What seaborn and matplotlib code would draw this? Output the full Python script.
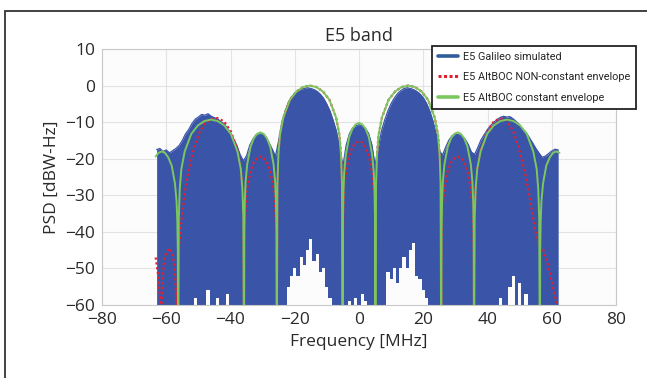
import numpy as np
import pandas as pd
import matplotlib
matplotlib.use("Agg")
import matplotlib.pyplot as plt
from matplotlib.patches import Rectangle
from matplotlib.lines import Line2D
import seaborn as sns

# ---------------- data ----------------
blue_freq = list(range(-63, 63))
blue_top = [-17.5, -17.2, -18.0, -17.6, -18.4, -17.8, -17.2, -16.4, -15.0, -13.2,
            -12.0, -10.4, -9.2, -8.6, -7.9, -8.1, -7.7, -8.4, -8.8, -9.1,
            -9.9, -10.4, -11.6, -12.9, -14.6, -16.4, -18.9, -20.6, -19.2, -16.3,
            -14.6, -13.4, -13.1, -13.4, -14.1, -15.6, -17.4, -19.3, -15.0, -10.2,
            -7.0, -4.6, -3.1, -2.1, -1.4, -1.0, -0.8, -0.6, -0.8, -1.1,
            -1.6, -2.4, -3.5, -5.1, -7.0, -9.6, -12.6, -17.2, -22.0, -16.3,
            -13.2, -11.6, -11.0, -10.7, -11.1, -11.7, -13.1, -16.2, -21.8, -17.0,
            -12.4, -9.4, -6.9, -4.9, -3.4, -2.2, -1.4, -0.8, -0.6, -0.8,
            -1.1, -1.6, -2.3, -3.3, -4.8, -6.9, -9.6, -13.2, -17.8, -19.0,
            -16.8, -14.9, -13.7, -13.3, -13.4, -13.8, -14.6, -16.1, -18.2, -18.8,
            -16.9, -14.8, -13.4, -12.0, -10.9, -10.0, -9.3, -8.7, -8.4, -8.6,
            -8.5, -9.1, -9.9, -10.7, -11.9, -12.8, -14.2, -15.6, -17.1, -18.4,
            -19.6, -19.3, -18.6, -17.9, -17.4, -17.6]
# lower edge of the blue band (where the noisy trace leaves white gaps)
blue_floor = [-62, -62, -62, -62, -62, -62, -62, -62, -62, -62,
              -62, -62, -58, -62, -62, -62, -56, -62, -62, -58,
              -62, -62, -57, -62, -62, -62, -62, -62, -62, -62,
              -62, -62, -62, -62, -62, -62, -62, -62, -62, -62,
              -60, -55, -52, -50, -52, -47, -49, -45, -42, -48,
              -46, -51, -50, -55, -58, -62, -62, -62, -62, -62,
              -59, -62, -58, -62, -57, -59, -62, -62, -62, -62,
              -62, -60, -51, -53, -50, -54, -50, -47, -50, -45,
              -43, -52, -53, -56, -58, -60, -62, -62, -62, -62,
              -62, -62, -62, -62, -62, -62, -62, -62, -62, -62,
              -62, -62, -62, -62, -62, -62, -62, -58, -62, -62,
              -55, -52, -62, -54, -62, -57, -62, -62, -62, -62,
              -62, -62, -62, -62, -62, -62]

green_freq = [-63.3, -62.4, -61.4, -60.4, -59.4, -58.3, -57.3, -56.8, -56.55, -56.4, -56.3,
              -56.1, -55.8, -55.3, -54.25, -52.2, -50.15, -48.1, -46.05, -44.0, -41.95,
              -39.9, -37.85, -36.8, -36.3, -36.0, -35.8,
              -35.7, -35.55, -35.3, -34.8, -33.76, -32.74, -31.72, -30.7, -29.68, -28.66,
              -27.64, -26.6, -26.1, -25.85, -25.7, -25.6,
              -25.4, -25.1, -24.6, -23.55, -21.5, -19.45, -17.4, -15.35, -13.3, -11.25,
              -9.2, -7.15, -6.1, -5.6, -5.3, -5.1,
              -5.0, -4.85, -4.6, -4.08, -3.06, -2.04, -1.02, 0.0, 1.02, 2.04, 3.06,
              4.08, 4.6, 4.85, 5.0, 5.1,
              5.3, 5.6, 6.1, 7.15, 9.2, 11.25, 13.3, 15.35, 17.4, 19.45, 21.5, 23.55,
              24.6, 25.1, 25.4, 25.6,
              25.7, 25.85, 26.1, 26.6, 27.64, 28.66, 29.68, 30.7, 31.72, 32.74, 33.76,
              34.8, 35.3, 35.55, 35.7, 35.8,
              36.0, 36.3, 36.8, 37.85, 39.9, 41.95, 44.0, 46.05, 48.1, 50.15, 52.2,
              54.25, 55.3, 55.8, 56.1, 56.3,
              56.4, 56.55, 56.8, 57.3, 58.3, 59.4, 60.4, 61.4, 62.4]
green_psd = [-19.4, -18.4, -18.0, -18.4, -19.6, -21.9, -26.7, -31.5, -37.0, -45.0, -80,
             -36.3, -28.3, -22.8, -18.0, -13.2, -10.9, -9.7, -9.3, -9.7, -10.9,
             -13.2, -18.0, -22.8, -28.3, -36.3, -80,
             -39.8, -31.8, -26.3, -21.5, -16.7, -14.4, -13.2, -12.8, -13.2, -14.4,
             -16.7, -21.5, -26.3, -31.8, -39.8, -80,
             -27.0, -19.0, -13.5, -8.7, -3.9, -1.6, -0.4, 0.0, -0.4, -1.6,
             -3.9, -8.7, -13.5, -19.0, -27.0, -80,
             -37.2, -29.2, -23.7, -18.9, -14.1, -11.8, -10.6, -10.2, -10.6, -11.8, -14.1,
             -18.9, -23.7, -29.2, -37.2, -80,
             -27.0, -19.0, -13.5, -8.7, -3.9, -1.6, -0.4, 0.0, -0.4, -1.6, -3.9, -8.7,
             -13.5, -19.0, -27.0, -80,
             -39.8, -31.8, -26.3, -21.5, -16.7, -14.4, -13.2, -12.8, -13.2, -14.4, -16.7,
             -21.5, -26.3, -31.8, -39.8, -80,
             -36.3, -28.3, -22.8, -18.0, -13.2, -10.9, -9.7, -9.3, -9.7, -10.9, -13.2,
             -18.0, -22.8, -28.3, -36.3, -80,
             -45.0, -37.0, -31.5, -26.7, -21.9, -19.6, -18.4, -18.0, -18.4]

red_freq = [-63.3, -62.5, -61.6, -60.8, -60.0, -59.0, -58.0, -57.2, -56.7,
            -56.0, -55.2, -54.2, -53.2, -52.1, -51.0, -49.5, -48.0, -46.0, -44.0,
            -42.0, -39.9, -37.85, -36.8, -36.3, -36.0, -35.8,
            -35.7, -35.55, -35.3, -34.8, -33.76, -32.74, -31.72, -30.7, -29.68, -28.66,
            -27.64, -26.6, -26.1, -25.85, -25.7, -25.6,
            -25.4, -25.1, -24.6, -23.55, -21.5, -19.45, -17.4, -15.35, -13.3, -11.25,
            -9.2, -7.15, -6.1, -5.6, -5.3, -5.1,
            -5.0, -4.85, -4.6, -4.08, -3.06, -2.04, -1.02, 0.0, 1.02, 2.04, 3.06,
            4.08, 4.6, 4.85, 5.0, 5.1,
            5.3, 5.6, 6.1, 7.15, 9.2, 11.25, 13.3, 15.35, 17.4, 19.45, 21.5, 23.55,
            24.6, 25.1, 25.4, 25.6,
            25.7, 25.85, 26.1, 26.6, 27.64, 28.66, 29.68, 30.7, 31.72, 32.74, 33.76,
            34.8, 35.3, 35.55, 35.7, 35.8,
            36.0, 36.3, 36.8, 37.85, 39.9, 42.0, 44.0, 46.0, 48.0, 49.6, 51.7,
            53.2, 54.8, 56.3, 57.4, 58.9, 60.5, 61.5, 62.4]
red_psd = [-47.0, -52.0, -62.0, -49.0, -45.5, -44.5, -46.0, -52.0, -62.0,
           -44.0, -36.0, -29.0, -24.0, -19.5, -16.0, -12.5, -10.3, -9.2, -8.9,
           -9.8, -12.5, -17.5, -22.8, -28.3, -36.3, -80,
           -46.4, -38.4, -32.9, -28.1, -23.3, -21.0, -19.8, -19.4, -19.8, -21.0,
           -23.3, -28.1, -32.9, -38.4, -46.4, -80,
           -27.0, -19.0, -13.5, -8.7, -3.9, -1.6, -0.4, 0.0, -0.4, -1.6,
           -3.9, -8.7, -13.5, -19.0, -27.0, -80,
           -42.2, -34.2, -28.7, -23.9, -19.1, -16.8, -15.6, -15.2, -15.6, -16.8, -19.1,
           -23.9, -28.7, -34.2, -42.2, -80,
           -27.0, -19.0, -13.5, -8.7, -3.9, -1.6, -0.4, 0.0, -0.4, -1.6, -3.9, -8.7,
           -13.5, -19.0, -27.0, -80,
           -46.4, -38.4, -32.9, -28.1, -23.3, -21.0, -19.8, -19.4, -19.8, -21.0, -23.3,
           -28.1, -32.9, -38.4, -46.4, -80,
           -36.3, -28.3, -22.8, -17.5, -12.5, -9.8, -8.9, -9.6, -12.5, -16.5, -24.0,
           -31.0, -39.5, -44.0, -45.0, -49.3, -55.6, -59.5, -63.0]

x_ticks = [-80, -60, -40, -20, 0, 20, 40, 60, 80]
y_ticks = [10, 0, -10, -20, -30, -40, -50, -60]
labels = ["E5 Galileo simulated", "E5 AltBOC NON-constant envelope", "E5 AltBOC constant envelope"]

# ---------------- styling ----------------
sns.set_theme(style="whitegrid")
plt.rcParams["font.family"] = ["Open Sans", "DejaVu Sans"]

BLUE = "#3a55a8"
RED = "#e3202e"
GREEN = "#7cc660"

fig = plt.figure(figsize=(6.47, 3.78), dpi=100)
ax = fig.add_axes([102 / 647, 1 - 305 / 378, 514 / 647, 256 / 378])
ax.set_facecolor("#fcfcfc")

# blue simulated spectrum (dense, noisy -> drawn as filled band)
bottom = [-62] * len(blue_freq)
ax.fill_between(blue_freq, bottom, blue_top, color=BLUE, lw=0, zorder=2)
sns.lineplot(x=blue_freq, y=blue_top, ax=ax, color=BLUE, lw=0.9,
             estimator=None, sort=False, zorder=2)
# white gaps left at the bottom by the noisy trace
ax.fill_between(blue_freq, bottom, blue_floor, step="mid", color="#fcfcfc", lw=0, zorder=2.5)

# envelopes
sns.lineplot(x=red_freq, y=red_psd, ax=ax, color=RED, lw=1.6, linestyle=(0, (1, 1.2)),
             estimator=None, sort=False, zorder=3)
sns.lineplot(x=green_freq, y=green_psd, ax=ax, color=GREEN, lw=1.4,
             estimator=None, sort=False, zorder=4)

ax.set_xlim(-80, 80)
ax.set_ylim(-60, 10)
ax.set_xticks(x_ticks)
ax.set_yticks(y_ticks)
ax.grid(True, color="#e3e3e3", lw=0.8)
ax.set_axisbelow(True)
for s in ax.spines.values():
    s.set_color("#c8c8c8")
    s.set_linewidth(0.8)
ax.tick_params(axis="both", labelsize=12.5, colors="#2a2a2a", length=0, pad=5)
ax.set_xlabel("Frequency [MHz]", fontsize=12.5, color="#2a2a2a", labelpad=4)
ax.set_ylabel("PSD [dBW-Hz]", fontsize=12.5, color="#2a2a2a", labelpad=4)
ax.set_title("E5 band", fontsize=13, color="#2a2a2a", pad=6)

handles = [Line2D([], [], color="#2f5d9b", lw=2.6),
           Line2D([], [], color=RED, lw=2.2, linestyle=(0, (1, 0.8))),
           Line2D([], [], color=GREEN, lw=2.6)]
leg = fig.legend(handles, labels, loc="upper right", bbox_to_anchor=(636 / 647, 1 - 46 / 378),
                 frameon=True, fancybox=False, framealpha=1, edgecolor="#222222",
                 prop={"family": ["Roboto", "DejaVu Sans"], "size": 7.8},
                 handlelength=1.9, handletextpad=0.4, labelspacing=0.95,
                 borderpad=0.55, borderaxespad=0)
leg.get_frame().set_linewidth(1.3)

# outer frame of the picture
fig.patches.append(Rectangle((5 / 647, -0.2), 1.2, 1 - 11 / 378 + 0.2,
                             transform=fig.transFigure, fill=False,
                             edgecolor="#333333", lw=1.3))

fig.savefig("out.png", dpi=100)
